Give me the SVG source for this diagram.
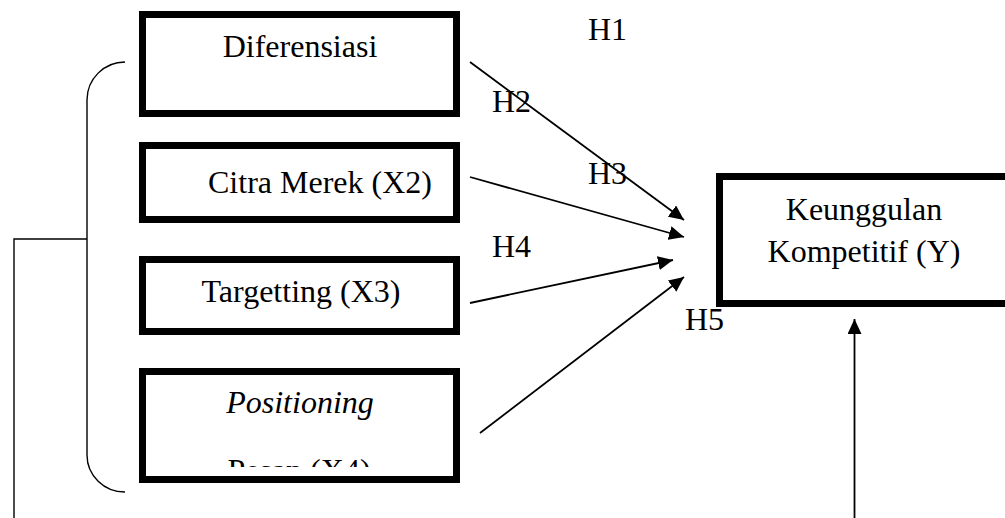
<svg xmlns="http://www.w3.org/2000/svg" width="1005" height="518" viewBox="0 0 1005 518">
<style>
.box{fill:#fff;stroke:#000;stroke-width:7}
.t{font-family:"Liberation Serif","Times New Roman",serif;font-size:32px;fill:#000}
.c{text-anchor:middle}
.ln{fill:none;stroke:#000;stroke-width:1.8}
.thin{fill:none;stroke:#000;stroke-width:1.4}
</style>
<defs>
<marker id="ah" viewBox="0 0 15 14" refX="15" refY="7" markerWidth="15" markerHeight="14" markerUnits="userSpaceOnUse" orient="auto">
<path d="M0,0 L15,7 L0,14 Z" fill="#000"/>
</marker>
<clipPath id="clip4"><rect x="143" y="375" width="310" height="92"/></clipPath>
</defs>
<g id="connectors">
<path class="thin" d="M125,62 A38,38 0 0 0 87,100 L87,455 A38,37 0 0 0 125,492"/>
<path class="thin" d="M87,239 L14,239 L14,518"/>
<line class="ln" x1="470" y1="62" x2="684" y2="220" marker-end="url(#ah)"/>
<line class="ln" x1="470" y1="177" x2="684" y2="237" marker-end="url(#ah)"/>
<line class="ln" x1="470" y1="303" x2="673" y2="260" marker-end="url(#ah)"/>
<line class="ln" x1="480" y1="433" x2="684" y2="277" marker-end="url(#ah)"/>
<line class="ln" x1="854.5" y1="518" x2="854.5" y2="319" marker-end="url(#ah)"/>
</g>
<g id="labels">
<text class="t" x="588" y="40">H1</text>
<text class="t" x="492" y="112">H2</text>
<text class="t" x="588" y="184">H3</text>
<text class="t" x="492" y="257">H4</text>
<text class="t" x="685" y="330">H5</text>
</g>
<g id="diferensiasi">
<rect class="box" x="142.5" y="14.5" width="314" height="99"/>
<text class="t c" x="300" y="57">Diferensiasi</text>
</g>
<g id="citra-merek">
<rect class="box" x="142.5" y="145.5" width="314" height="74"/>
<text class="t" x="208" y="193">Citra Merek (X2)</text>
</g>
<g id="targetting">
<rect class="box" x="142.5" y="259.5" width="314" height="72"/>
<text class="t c" x="301" y="302">Targetting (X3)</text>
</g>
<g id="positioning">
<rect class="box" x="142.5" y="371.5" width="314" height="108"/>
<text class="t c" x="300" y="413" font-style="italic">Positioning</text>
<text class="t c" x="299" y="481" clip-path="url(#clip4)">Pesan (X4)</text>
</g>
<g id="keunggulan">
<rect class="box" x="719.5" y="176.5" width="290" height="127"/>
<text class="t c" x="864" y="220">Keunggulan</text>
<text class="t c" x="864" y="262">Kompetitif (Y)</text>
</g>
</svg>
